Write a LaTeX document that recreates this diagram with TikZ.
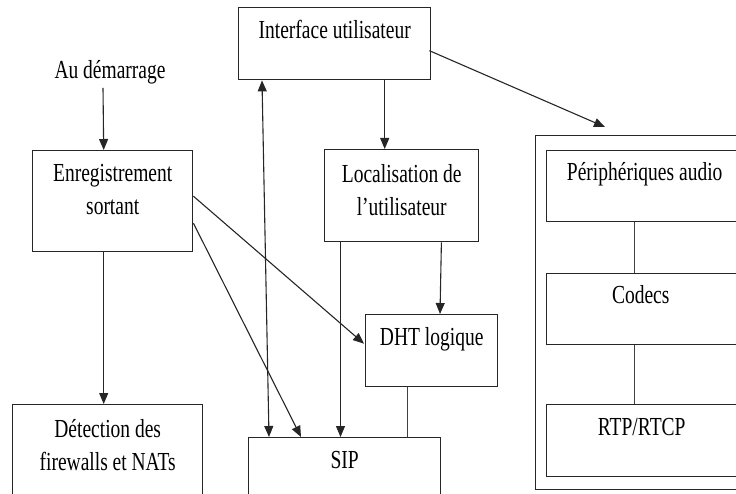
\documentclass[tikz,border=0pt]{standalone}
\usepackage{fontspec}
\setmainfont[FakeStretch=0.75]{Liberation Serif}
\usetikzlibrary{arrows.meta,calc}
\begin{document}
\begin{tikzpicture}[x=1pt,y=-1pt,
  >={Triangle[length=11pt,width=9pt]},
  box/.style={draw=black!85, line width=1.4pt, inner sep=0pt, anchor=north west},
  lbl/.style={font=\fontsize{26}{33}\selectfont, inner sep=0pt, anchor=base, align=center},
  arr/.style={draw=black!85, line width=1.1pt, ->},
  dbl/.style={draw=black!85, line width=1.1pt, <->},
  link/.style={draw=black!75, line width=0.9pt}]
\useasboundingbox (0,0) rectangle (736,494);
\clip (0,0) rectangle (736,494);

% boxes
\node[box, minimum width=192, minimum height=72]  (iu)  at (238,7)   {};
\node[box, minimum width=160, minimum height=101] (enr) at (32,150)  {};
\node[box, minimum width=154, minimum height=92]  (loc) at (324,149) {};
\node[box, minimum width=132, minimum height=72]  (dht) at (365,314) {};
\node[box, minimum width=192, minimum height=73]  (sip) at (248,437) {};
\node[box, minimum width=190, minimum height=101] (det) at (12,404)  {};
% media stack
\node[box, minimum width=216, minimum height=354] (media) at (535,135) {};
\node[box, minimum width=194, minimum height=71]  (per) at (546,150) {};
\node[box, minimum width=194, minimum height=71]  (cod) at (546,273) {};
\node[box, minimum width=194, minimum height=72]  (rtp) at (546,404) {};

% labels (base anchor sits on the last line)
\node[lbl] (st) at (110,79) {Au démarrage};
\node[lbl] at ($(iu.north)+(0,32)$)  {Interface utilisateur};
\node[lbl] at ($(enr.north)+(0,65)$) {Enregistrement\\sortant};
\node[lbl] at ($(loc.north)+(0,67)$) {Localisation de\\l’utilisateur};
\node[lbl] at ($(dht.north)+(0,31)$) {DHT logique};
\node[lbl] at ($(sip.north)+(0,31)$) {SIP};
\node[lbl] at ($(det.north)+(0,66)$) {Détection des\\firewalls et NATs};
\node[lbl] at ($(per.north)+(1,31)$) {Périphériques audio};
\node[lbl] at ($(cod.north)+(-3,30)$) {Codecs};
\node[lbl] at ($(rtp.north)+(-2,31)$) {RTP/RTCP};

% connectors
\draw[arr] ($(st.south)+(-7,3)$) -- ($(enr.north)+(-9,0)$);
\draw[arr] ($(iu.south)+(50,0)$) -- ($(loc.north)+(-17,0)$);
\draw[dbl] ($(sip.north west)+(21,0)$) -- ($(iu.south west)+(24,0)$);
\draw[arr] ($(iu.east)+(-2,7)$) -- ($(media.north west)+(70,-8)$);
\draw[arr] ($(enr.east)+(0,-5)$) -- ($(dht.west)+(-1,-7)$);
\draw[arr] ($(enr.east)+(0,22)$) -- ($(sip.north west)+(53,0)$);
\draw[arr] ($(enr.south)+(-9,0)$) -- ($(det.north)+(-4,0)$);
\draw[arr] ($(loc.south west)+(16.5,0)$) -- ($(sip.north west)+(92.5,0)$);
\draw[arr] ($(loc.south east)+(-38,0)$) -- ($(dht.north west)+(75,0)$);
\draw[link] ($(dht.south west)+(42,0)$) -- ($(sip.north west)+(159,0)$);
\draw[link] ($(per.south west)+(88,0)$) -- ($(cod.north west)+(88,0)$);
\draw[link] ($(cod.south west)+(88,0)$) -- ($(rtp.north west)+(88,0)$);
\end{tikzpicture}
\end{document}
